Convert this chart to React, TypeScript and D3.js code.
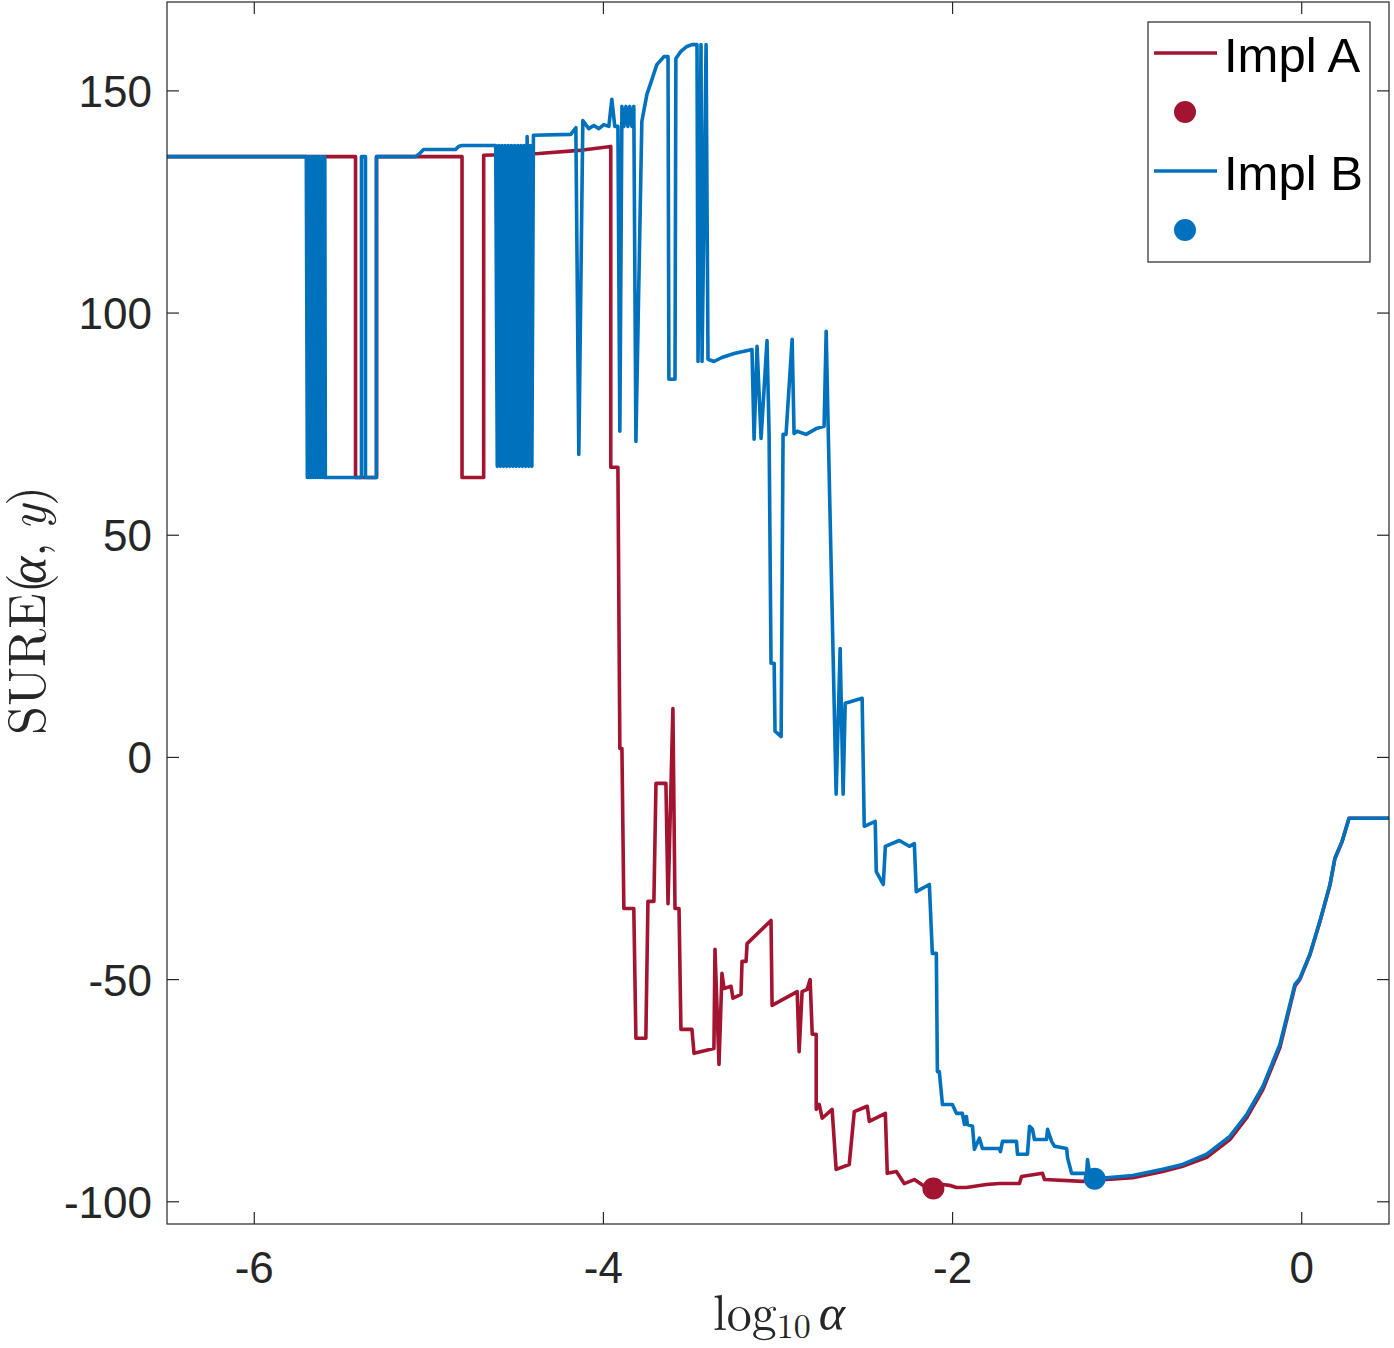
import React from "react";
import * as d3 from "d3";

// log10(alpha) ticks and SURE ticks
const xTicks = [-6, -4, -2, 0];
const yTicks = [-100, -50, 0, 50, 100, 150];

const seriesNames = ["Impl A", "Impl B"];
const seriesColors = ["#A2142F", "#0072BD"];

// [log10 alpha, SURE(alpha, y)]
const implA: [number, number][] = [
  [-6.51, 135.2], [-5.42, 135.2], [-5.42, 63.0], [-5.3, 63.0], [-5.3, 135.2],
  [-4.81, 135.2], [-4.81, 63.0], [-4.686, 63.0], [-4.686, 135.5], [-4.37, 135.9],
  [-4.141, 136.6], [-3.958, 137.5], [-3.958, 65.3], [-3.917, 65.3], [-3.906, 2.0],
  [-3.894, 2.0], [-3.883, -34.0], [-3.826, -34.0], [-3.814, -63.2], [-3.757, -63.2],
  [-3.745, -32.4], [-3.711, -32.4], [-3.699, -5.85], [-3.642, -5.85], [-3.63, -32.9],
  [-3.602, 11.0], [-3.59, -34.0], [-3.567, -34.0], [-3.556, -61.2], [-3.493, -61.2],
  [-3.481, -66.6], [-3.367, -65.5], [-3.361, -43.2], [-3.338, -69.1], [-3.321, -48.6],
  [-3.309, -52.0], [-3.269, -51.5], [-3.258, -54.2], [-3.212, -53.3], [-3.206, -45.9],
  [-3.183, -45.9], [-3.177, -41.9], [-3.04, -36.7], [-3.034, -55.8], [-2.89, -52.7],
  [-2.879, -66.2], [-2.862, -52.7], [-2.833, -52.2], [-2.816, -50.0], [-2.804, -62.3],
  [-2.781, -62.3], [-2.781, -79.2], [-2.764, -78.1], [-2.747, -81.2], [-2.69, -79.2],
  [-2.667, -92.7], [-2.592, -91.6], [-2.563, -79.7], [-2.489, -78.5], [-2.477, -81.9],
  [-2.385, -80.1], [-2.374, -93.6], [-2.322, -93.2], [-2.277, -95.9], [-2.219, -95.0],
  [-2.162, -96.5], [-2.11, -97.0], [-2.058, -96.1], [-2.018, -96.3], [-1.978, -96.8],
  [-1.921, -96.8], [-1.806, -96.1], [-1.731, -95.9], [-1.617, -95.9], [-1.605, -94.3],
  [-1.485, -93.6], [-1.473, -95.0], [-1.255, -95.4], [-1.158, -95.0], [-1.118, -95.0],
  [-0.968, -94.6], [-0.796, -93.2], [-0.682, -92.0], [-0.544, -90.0], [-0.412, -86.0],
  [-0.314, -81.0], [-0.222, -74.7], [-0.125, -65.3], [-0.039, -51.5], [-0.01, -49.9],
  [0.047, -44.4], [0.104, -37.0], [0.162, -28.7], [0.19, -22.8], [0.231, -19.0],
  [0.271, -13.7], [0.5, -13.7],
];

const implB: [number, number][] = [
  [-6.51, 135.2], [-5.702, 135.2],
  [-5.696, 63], [-5.69, 135.2], [-5.684, 63], [-5.678, 135.2], [-5.672, 63],
  [-5.666, 135.2], [-5.66, 63], [-5.654, 135.2], [-5.648, 63], [-5.642, 135.2],
  [-5.636, 63], [-5.63, 135.2], [-5.624, 63], [-5.618, 135.2], [-5.612, 63],
  [-5.606, 135.2], [-5.6, 63], [-5.596, 135.2], [-5.593, 63],
  [-5.386, 63], [-5.386, 135.2], [-5.363, 135.2], [-5.363, 63], [-5.3, 63],
  [-5.3, 135.2], [-5.076, 135.2], [-5.05, 136.0], [-5.03, 136.8], [-4.847, 136.8],
  [-4.83, 137.5], [-4.812, 137.7], [-4.617, 137.7],
  [-4.608, 65.5], [-4.599, 137.7], [-4.59, 65.5], [-4.581, 137.7], [-4.572, 65.5],
  [-4.563, 137.7], [-4.554, 65.5], [-4.545, 137.7], [-4.536, 65.5], [-4.527, 137.7],
  [-4.518, 65.5], [-4.509, 137.7], [-4.5, 65.5], [-4.491, 137.7], [-4.482, 65.5],
  [-4.473, 137.7], [-4.464, 65.5], [-4.455, 137.7], [-4.446, 65.5], [-4.437, 139.7],
  [-4.428, 65.5], [-4.419, 137.7], [-4.41, 65.5], [-4.401, 140.0],
  [-4.187, 140.2], [-4.158, 141.7], [-4.141, 68.2], [-4.118, 143.3], [-4.084, 141.5],
  [-4.055, 142.2], [-4.026, 141.5], [-3.998, 142.4], [-3.969, 142.0], [-3.952, 148.1],
  [-3.935, 142.0], [-3.917, 142.0], [-3.906, 73.4], [-3.894, 146.5], [-3.883, 142.0],
  [-3.871, 146.5], [-3.86, 142.0], [-3.849, 146.5], [-3.837, 142.0], [-3.826, 146.5],
  [-3.814, 71.1], [-3.78, 143.1], [-3.751, 149.2], [-3.722, 152.6], [-3.694, 155.9],
  [-3.653, 157.7], [-3.63, 157.7], [-3.625, 85.1], [-3.59, 85.1], [-3.585, 157.3],
  [-3.556, 158.9], [-3.522, 160.0], [-3.493, 160.4], [-3.464, 160.4], [-3.458, 89.1],
  [-3.441, 160.4], [-3.435, 89.1], [-3.412, 160.4], [-3.401, 89.6],
  [-3.367, 89.1], [-3.321, 90.0], [-3.252, 90.9], [-3.194, 91.4], [-3.149, 91.8],
  [-3.137, 71.6], [-3.12, 92.5], [-3.097, 71.8], [-3.063, 93.8], [-3.051, 72.7],
  [-3.04, 21.2], [-3.022, 21.2], [-3.017, 5.9], [-2.982, 4.7], [-2.971, 72.7],
  [-2.954, 72.7], [-2.919, 94.1], [-2.908, 72.9], [-2.89, 73.4], [-2.839, 72.7],
  [-2.781, 74.0], [-2.736, 74.5], [-2.724, 95.9], [-2.713, 74.9], [-2.667, -8.3],
  [-2.644, 24.5], [-2.627, -8.3], [-2.615, 12.2], [-2.518, 13.3], [-2.506, -15.5],
  [-2.443, -14.4], [-2.437, -25.7], [-2.397, -28.6], [-2.385, -20.0], [-2.305, -18.7],
  [-2.248, -20.0], [-2.219, -19.4], [-2.208, -30.2], [-2.133, -28.6], [-2.116, -44.1],
  [-2.093, -44.1], [-2.087, -70.7], [-2.076, -70.7], [-2.058, -78.1], [-2.001, -78.1],
  [-1.978, -80.1], [-1.944, -80.1], [-1.932, -82.6], [-1.921, -80.8], [-1.915, -82.6],
  [-1.886, -83.0], [-1.875, -88.2], [-1.846, -85.7], [-1.829, -88.0], [-1.731, -88.0],
  [-1.726, -88.7], [-1.714, -86.4], [-1.634, -86.4], [-1.628, -89.3], [-1.571, -89.3],
  [-1.559, -83.0], [-1.542, -83.7], [-1.531, -86.0], [-1.462, -86.0], [-1.456, -83.7],
  [-1.433, -86.4], [-1.416, -87.5], [-1.347, -88.0], [-1.341, -90.2], [-1.318, -93.6],
  [-1.232, -93.6], [-1.227, -90.5], [-1.215, -93.6], [-1.186, -94.8], [-1.118, -94.6],
  [-0.968, -94.1], [-0.796, -92.7], [-0.682, -91.6], [-0.544, -89.3], [-0.412, -85.3],
  [-0.314, -80.3], [-0.222, -74.0], [-0.125, -64.6], [-0.039, -51.1], [-0.01, -49.7],
  [0.047, -44.3], [0.104, -36.9], [0.162, -28.6], [0.19, -22.7], [0.231, -18.9],
  [0.271, -13.7], [0.5, -13.7],
];

const AX = "#262626";
const tickFont = "'Liberation Sans', Arial, Helvetica, sans-serif";
const mathFont = "'Latin Modern Roman', 'CMU Serif', 'Liberation Serif', 'Times New Roman', serif";

// pieces of the y label, laid out left to right before rotation
const yLabelParts = [
  { text: "SURE(", dx: -121, italic: false },
  { text: "α", dx: 30, italic: true },
  { text: ",", dx: 57, italic: false },
  { text: "y", dx: 84, italic: true },
  { text: ")", dx: 108, italic: false },
];

export default function App() {
  const width = 1394;
  const height = 1348;
  const left = 167, right = 1389, top = 2, bottom = 1224;
  const tickLen = 12;

  const x = d3.scaleLinear().domain([-6.5, 0.5]).range([left, right]);
  const y = d3.scaleLinear().domain([-105, 170]).range([bottom, top]);
  const line = d3
    .line<[number, number]>()
    .x((d) => x(d[0]))
    .y((d) => y(d[1]));

  const series = [implA, implB];
  // the dot on each curve marks its minimum
  const minima = series.map((s) => s[d3.minIndex(s, (d) => d[1])]);

  return (
    <svg
      width={width}
      height={height}
      style={{ position: "absolute", left: 0, top: 0, background: "#fff" }}
    >
      <defs>
        <clipPath id="plotArea">
          <rect x={left} y={top} width={right - left} height={bottom - top} />
        </clipPath>
      </defs>

      {/* curves */}
      <g clipPath="url(#plotArea)">
        {series.map((s, i) => (
          <path
            key={i}
            d={line(s) || ""}
            fill="none"
            stroke={seriesColors[i]}
            strokeWidth={3.6}
            strokeLinejoin="round"
          />
        ))}
        {minima.map((m, i) => (
          <circle key={i} cx={x(m[0])} cy={y(m[1])} r={11} fill={seriesColors[i]} />
        ))}
      </g>

      {/* box and ticks */}
      <rect
        x={left}
        y={top}
        width={right - left}
        height={bottom - top}
        fill="none"
        stroke={AX}
        strokeWidth={1.2}
      />
      {xTicks.map((t) => (
        <g key={"x" + t} stroke={AX} strokeWidth={1.2}>
          <line x1={x(t)} x2={x(t)} y1={bottom} y2={bottom - tickLen} />
          <line x1={x(t)} x2={x(t)} y1={top} y2={top + tickLen} />
        </g>
      ))}
      {yTicks.map((t) => (
        <g key={"y" + t} stroke={AX} strokeWidth={1.2}>
          <line x1={left} x2={left + tickLen} y1={y(t)} y2={y(t)} />
          <line x1={right} x2={right - tickLen} y1={y(t)} y2={y(t)} />
        </g>
      ))}

      {/* tick labels */}
      <g fontFamily={tickFont} fontSize={44} fill={AX}>
        {xTicks.map((t) => (
          <text key={"xl" + t} x={x(t)} y={bottom + 59} textAnchor="middle">
            {t}
          </text>
        ))}
        {yTicks.map((t) => (
          <text key={"yl" + t} x={left - 15} y={y(t) + 16} textAnchor="end">
            {t}
          </text>
        ))}
      </g>

      {/* axis labels */}
      <text x={779} y={1330} textAnchor="middle" fontFamily={mathFont} fontSize={50} fill={AX}>
        log
        <tspan fontSize={34} dy={8}>10</tspan>
        <tspan dy={-8} dx={8} fontStyle="italic">α</tspan>
      </text>
      <g transform="translate(45, 614) rotate(-90)" fontFamily={mathFont} fontSize={52} fill={AX}>
        {yLabelParts.map((p) => (
          <text key={p.text} x={p.dx} y={0} fontStyle={p.italic ? "italic" : "normal"}>
            {p.text}
          </text>
        ))}
      </g>

      {/* legend */}
      <g>
        <rect x={1148} y={22} width={222} height={240} fill="#fff" stroke={AX} strokeWidth={1.2} />
        {seriesNames.map((name, i) => {
          const rowY = 53 + i * 118;
          return (
            <g key={name}>
              <line x1={1154} x2={1217} y1={rowY} y2={rowY} stroke={seriesColors[i]} strokeWidth={3.6} />
              <text x={1224} y={rowY + 19} fontFamily={tickFont} fontSize={49} fill="#000">
                {name}
              </text>
              <circle cx={1185} cy={rowY + 59} r={11} fill={seriesColors[i]} />
            </g>
          );
        })}
      </g>
    </svg>
  );
}
